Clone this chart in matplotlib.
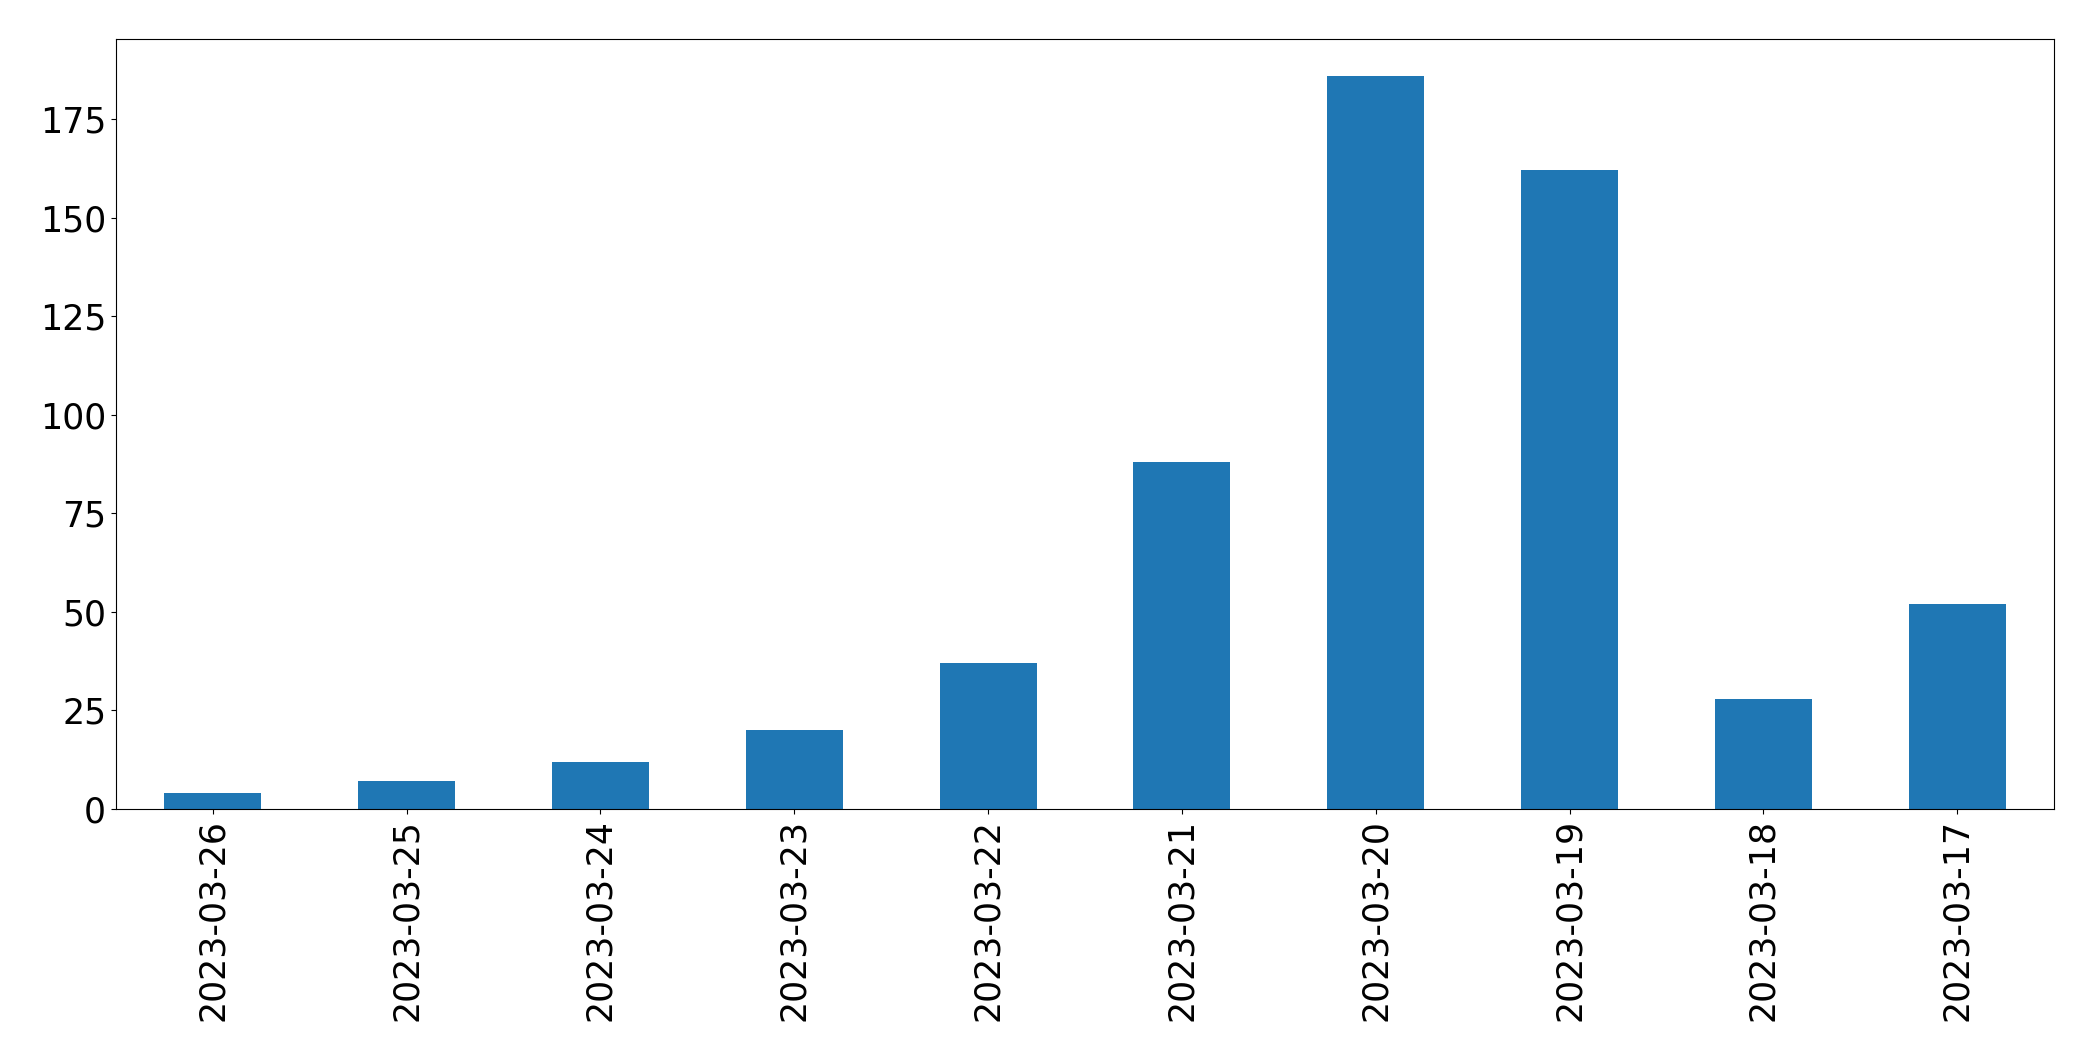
import matplotlib
matplotlib.use("Agg")
import matplotlib.pyplot as plt

dates = ["2023-03-26", "2023-03-25", "2023-03-24", "2023-03-23", "2023-03-22",
         "2023-03-21", "2023-03-20", "2023-03-19", "2023-03-18", "2023-03-17"]
counts = [4, 7, 12, 20, 37, 88, 186, 162, 28, 52]

fig, ax = plt.subplots(figsize=(20.93, 10.61), dpi=100)
fig.subplots_adjust(left=0.0554, right=0.9814, top=0.9632, bottom=0.2375)

x = list(range(len(dates)))
ax.bar(x, counts, width=0.5, color="#1f77b4")
ax.set_xticks(x)
ax.set_xticklabels(dates, rotation=90, fontsize=25)
ax.tick_params(axis="y", labelsize=25)
ax.set_xlim(-0.5, len(dates) - 0.5)

fig.savefig("out.png", dpi=100)
